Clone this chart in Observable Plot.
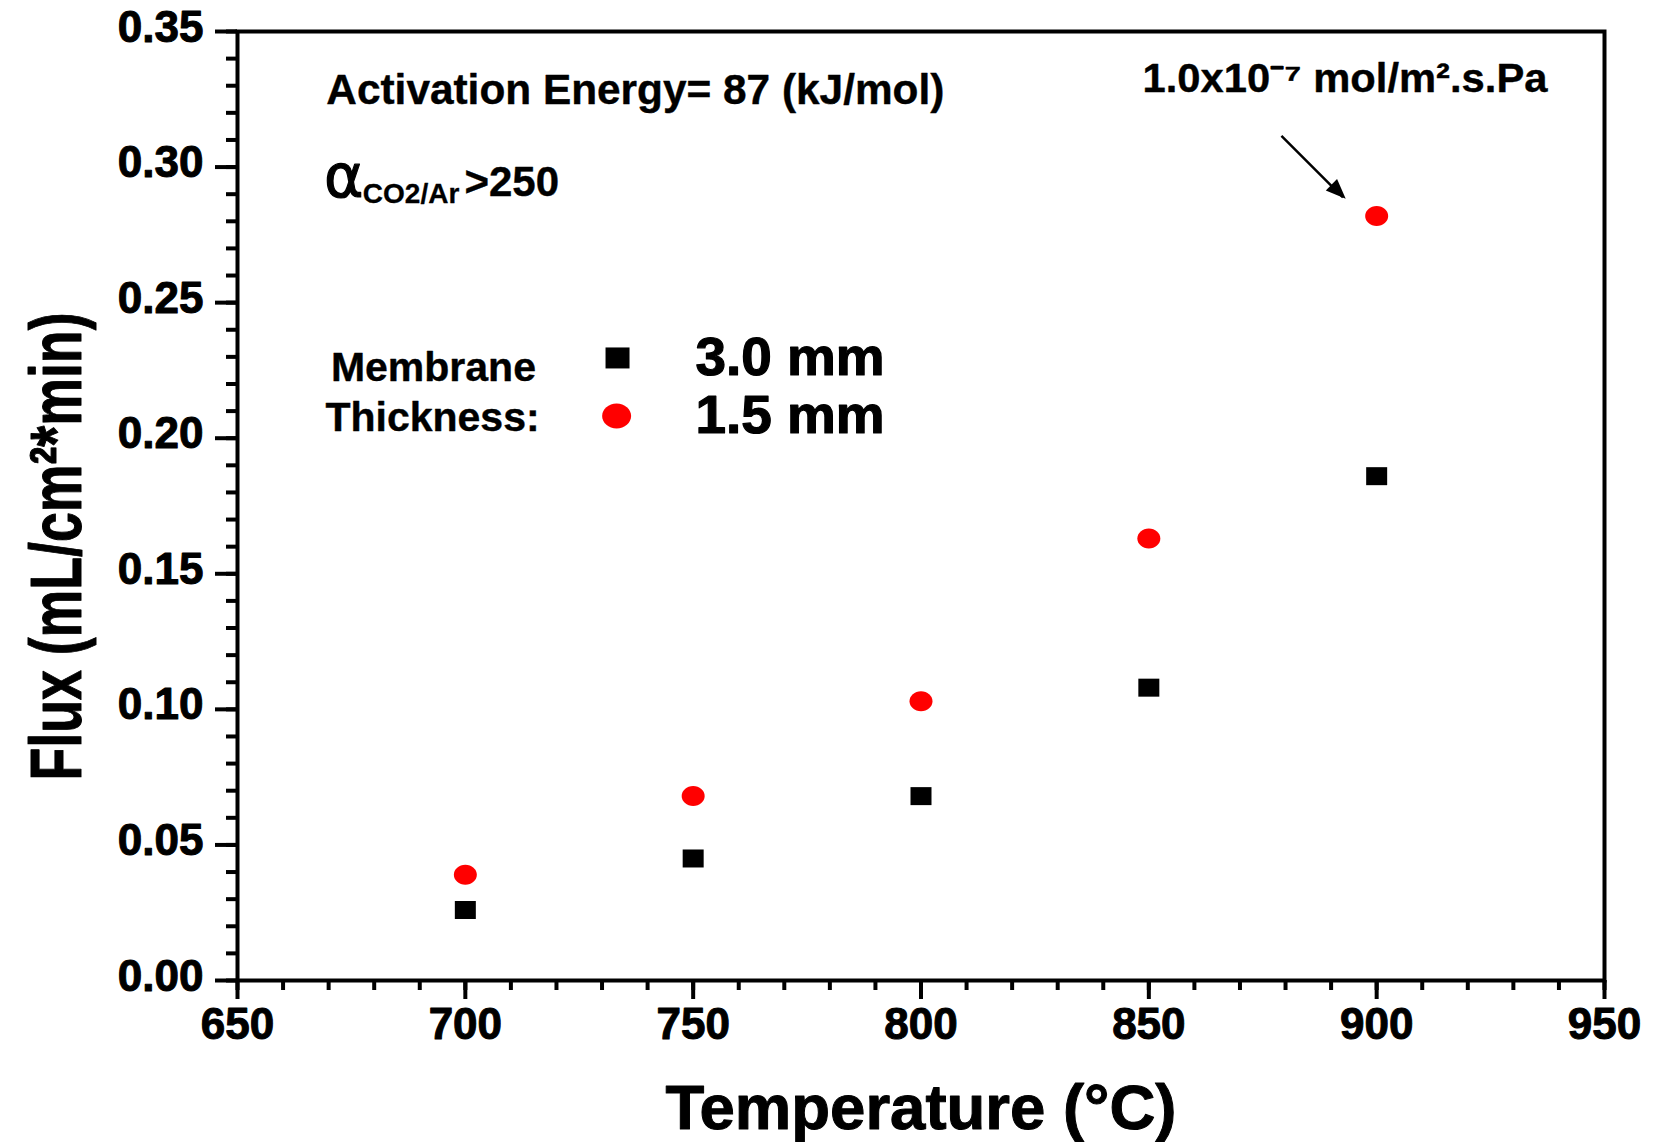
<!DOCTYPE html>
<html>
<head>
<meta charset="utf-8">
<script src="https://cdn.jsdelivr.net/npm/d3@7"></script>
<script src="https://cdn.jsdelivr.net/npm/@observablehq/plot@0.6"></script>
<style>
  html, body { margin: 0; padding: 0; background: #fff; }
</style>
</head>
<body>
<div id="chart"></div>
<script>
// ---- data ----
const temps = [700, 750, 800, 850, 900];
const flux30 = [0.026, 0.045, 0.068, 0.108, 0.186];   // 3.0 mm membrane
const flux15 = [0.039, 0.068, 0.103, 0.163, 0.282];   // 1.5 mm membrane
const seriesLabels = ["3.0 mm", "1.5 mm"];
const xTicks = [650, 700, 750, 800, 850, 900, 950];
const yTicks = [0, 0.05, 0.10, 0.15, 0.20, 0.25, 0.30, 0.35];
const xTitle = "Temperature (°C)";
const yTitle = "Flux (mL/cm²*min)";
const noteEa = "Activation Energy= 87 (kJ/mol)";
const notePerm = "1.0x10⁻⁷ mol/m².s.Pa";
const legendTitle = ["Membrane", "Thickness:"];

const rows30 = temps.map((t, i) => ({t, v: flux30[i]}));
const rows15 = temps.map((t, i) => ({t, v: flux15[i]}));

// ---- custom symbols ----
function rectSymbol(w, h) {
  return {draw(ctx) {
    ctx.moveTo(-w / 2, -h / 2); ctx.lineTo(w / 2, -h / 2);
    ctx.lineTo(w / 2, h / 2); ctx.lineTo(-w / 2, h / 2); ctx.closePath();
  }};
}
function ellipseSymbol(w, h) {
  const a = w / 2, b = h / 2, k = 0.5523;
  return {draw(ctx) {
    ctx.moveTo(a, 0);
    ctx.bezierCurveTo(a, k * b, k * a, b, 0, b);
    ctx.bezierCurveTo(-k * a, b, -a, k * b, -a, 0);
    ctx.bezierCurveTo(-a, -k * b, -k * a, -b, 0, -b);
    ctx.bezierCurveTo(k * a, -b, a, -k * b, a, 0);
    ctx.closePath();
  }};
}
function arrowHead(len, half, dxp, dyp) {
  const n = Math.hypot(dxp, dyp), ux = dxp / n, uy = dyp / n, px = -uy, py = ux;
  return {draw(ctx) {
    ctx.moveTo(0, 0);
    ctx.lineTo(-len * ux + half * px, -len * uy + half * py);
    ctx.lineTo(-len * ux - half * px, -len * uy - half * py);
    ctx.closePath();
  }};
}

const font = "Liberation Sans, Arial, Helvetica, sans-serif";
const bold = {fontWeight: "bold", fill: "black", stroke: "black", strokeWidth: 0.8};

const plot = Plot.plot({
  width: 1658,
  height: 1142,
  marginLeft: 237,
  marginRight: 54,
  marginTop: 31,
  marginBottom: 162,
  style: {fontFamily: font, background: "white", overflow: "visible"},
  x: {domain: [650, 950], label: null},
  y: {domain: [0, 0.35], label: null},
  marks: [
    // minor ticks
    Plot.axisX(d3.range(650, 951, 10), {tickSize: 10, strokeWidth: 4, tickFormat: () => "", label: null}),
    Plot.axisY(d3.range(0, 0.3501, 0.01), {tickSize: 11, strokeWidth: 4, tickFormat: () => "", label: null}),
    // major ticks
    Plot.axisX(xTicks, {tickSize: 19, strokeWidth: 4, tickFormat: () => "", label: null}),
    Plot.axisY(yTicks, {tickSize: 22, strokeWidth: 4, tickFormat: () => "", label: null}),
    // tick labels
    Plot.text(xTicks, {x: d => d, frameAnchor: "bottom", lineAnchor: "top", dy: 27,
      text: d => String(d), fontSize: 44, ...bold, strokeWidth: 1}),
    Plot.text(yTicks, {y: d => d, frameAnchor: "left", textAnchor: "end", dx: -34, dy: -4,
      text: d => d3.format(".2f")(d), fontSize: 44, ...bold, strokeWidth: 1}),
    Plot.frame({strokeWidth: 4}),
    // axis titles
    Plot.text([xTitle], {frameAnchor: "bottom", lineAnchor: "bottom", dy: 148, fontSize: 63, ...bold, strokeWidth: 1}),
    Plot.text([yTitle], {frameAnchor: "left", rotate: -90, lineAnchor: "bottom", textAnchor: "middle",
      dx: -157, dy: 40.5, fontSize: 72, ...bold, strokeWidth: 1}),
    // data
    Plot.dot(rows30, {x: "t", y: "v", symbol: rectSymbol(21, 18), fill: "black", stroke: "none"}),
    Plot.dot(rows15, {x: "t", y: "v", symbol: ellipseSymbol(23, 20), fill: "#ff0000", stroke: "none"}),
    // annotations
    Plot.text([noteEa], {x: [669.5], y: [0.3233], textAnchor: "start", lineAnchor: "bottom", fontSize: 42, ...bold, strokeWidth: 0.4}),
    Plot.text(["α"], {x: [669.0], y: [0.2890], textAnchor: "start", lineAnchor: "bottom", fontSize: 60, fill: "black", stroke: "black", strokeWidth: 1.2, fontFamily: "DejaVu Sans, sans-serif"}),
    Plot.text(["CO2/Ar"], {x: [677.5], y: [0.2868], textAnchor: "start", lineAnchor: "bottom", fontSize: 28, ...bold, strokeWidth: 0.3}),
    Plot.text([">250"], {x: [699.8], y: [0.2894], textAnchor: "start", lineAnchor: "bottom", fontSize: 42, ...bold, strokeWidth: 0.4}),
    Plot.text([notePerm], {x: [848.6], y: [0.3277], textAnchor: "start", lineAnchor: "bottom", fontSize: 41, ...bold, strokeWidth: 0.4}),
    Plot.link([0], {x1: [879.1], y1: [0.3115], x2: [892.6], y2: [0.2888], stroke: "black", strokeWidth: 2.5}),
    Plot.dot([0], {x: [893.2], y: [0.2883], symbol: arrowHead(20, 8, 64, 63), fill: "black", stroke: "none"}),
    // legend
    Plot.text([legendTitle[0]], {x: [693.0], y: [0.2211], textAnchor: "middle", lineAnchor: "bottom", fontSize: 41, ...bold, strokeWidth: 0.4}),
    Plot.text([legendTitle[1]], {x: [692.8], y: [0.2026], textAnchor: "middle", lineAnchor: "bottom", fontSize: 41, ...bold, strokeWidth: 0.4}),
    Plot.dot([0], {x: [733.4], y: [0.2296], symbol: rectSymbol(24, 21), fill: "black", stroke: "none"}),
    Plot.dot([0], {x: [733.2], y: [0.2082], symbol: ellipseSymbol(29, 25), fill: "#ff0000", stroke: "none"}),
    Plot.text([seriesLabels[0]], {x: [750.5], y: [0.2233], textAnchor: "start", lineAnchor: "bottom", fontSize: 53, ...bold, strokeWidth: 1.2}),
    Plot.text([seriesLabels[1]], {x: [750.5], y: [0.2019], textAnchor: "start", lineAnchor: "bottom", fontSize: 53, ...bold, strokeWidth: 1.2})
  ]
});

// fit condensed text lengths to the reference
const lengths = new Map([
  [noteEa, 618], [yTitle, 468], [xTitle, 511], [notePerm, 405],
  [seriesLabels[0], 189], [seriesLabels[1], 189]
]);
plot.querySelectorAll("text").forEach(t => {
  const L = lengths.get(t.textContent);
  if (L) { t.setAttribute("textLength", L); t.setAttribute("lengthAdjust", "spacingAndGlyphs"); }
});

document.getElementById("chart").appendChild(plot);
</script>
</body>
</html>
